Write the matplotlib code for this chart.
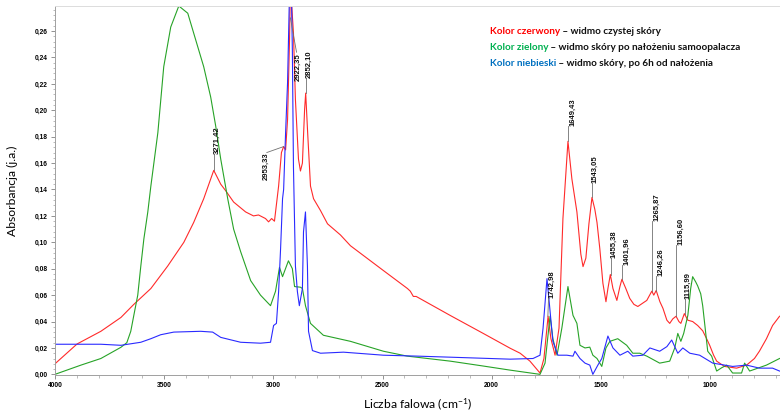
import matplotlib
matplotlib.use('Agg')
import matplotlib.pyplot as plt
from matplotlib.ticker import MultipleLocator, FuncFormatter

plt.rcParams['mathtext.fontset'] = 'custom'
plt.rcParams['mathtext.rm'] = 'Lato'
plt.rcParams['mathtext.it'] = 'Lato:italic'

# --- widmo czystej skory (czerwony) ---
red_wn = [4000, 3899, 3790, 3698, 3639, 3561, 3484, 3410, 3365, 3319, 3273, 3241, 3218, 3182,
          3127, 3091, 3068, 3036, 3022, 3008, 2995, 2976, 2963, 2953, 2944, 2935, 2926, 2922,
          2908, 2899, 2885, 2876, 2867, 2857, 2852, 2843, 2830, 2816, 2784, 2752, 2693, 2647,
          2496, 2386, 2373, 2359, 2346, 2190, 2039, 1916, 1870, 1825, 1779, 1761, 1742, 1729,
          1710, 1692, 1674, 1651, 1633, 1610, 1592, 1582, 1569, 1555, 1541, 1528, 1518, 1505,
          1491, 1477, 1468, 1457, 1445, 1427, 1413, 1404, 1386, 1368, 1349, 1331, 1308, 1290,
          1267, 1258, 1247, 1230, 1216, 1198, 1185, 1171, 1156, 1143, 1134, 1118, 1102, 1080,
          1057, 1034, 1016, 1002, 984, 970, 934, 879, 833, 797, 774, 742, 714, 682]
red_abs = [0.008, 0.023, 0.0326, 0.0431, 0.053, 0.065, 0.082, 0.100, 0.115, 0.133, 0.1545, 0.144,
           0.139, 0.1305, 0.123, 0.120, 0.1207, 0.118, 0.1155, 0.118, 0.116, 0.1426, 0.168, 0.1725,
           0.170, 0.193, 0.253, 0.295, 0.2585, 0.208, 0.163, 0.154, 0.160, 0.2005, 0.213, 0.183,
           0.1426, 0.133, 0.124, 0.114, 0.1056, 0.0974, 0.0786, 0.065, 0.063, 0.059, 0.059, 0.0446,
           0.031, 0.0198, 0.016, 0.010, 0.001, 0.012, 0.044, 0.027, 0.0145, 0.035, 0.118, 0.1765,
           0.148, 0.123, 0.091, 0.0816, 0.088, 0.114, 0.134, 0.125, 0.115, 0.095, 0.069, 0.055,
           0.065, 0.0756, 0.065, 0.056, 0.0665, 0.072, 0.065, 0.0575, 0.053, 0.0514, 0.054, 0.056,
           0.063, 0.060, 0.0635, 0.055, 0.050, 0.041, 0.0386, 0.042, 0.044, 0.040, 0.0386, 0.046,
           0.041, 0.040, 0.037, 0.033, 0.027, 0.022, 0.0145, 0.010, 0.006, 0.0047, 0.007, 0.012,
           0.0176, 0.027, 0.037, 0.044]

# --- po nalozeniu samoopalacza (zielony) ---
green_wn = [4000, 3881, 3790, 3698, 3671, 3653, 3639, 3621, 3607, 3593, 3575, 3561, 3529, 3502,
            3470, 3433, 3392, 3365, 3319, 3287, 3264, 3241, 3209, 3182, 3150, 3104, 3059, 3013,
            2990, 2972, 2958, 2931, 2913, 2903, 2876, 2867, 2853, 2830, 2771, 2647, 2496, 2387,
            2190, 2039, 1916, 1779, 1756, 1733, 1720, 1701, 1679, 1651, 1628, 1610, 1596, 1573,
            1551, 1537, 1518, 1496, 1477, 1459, 1423, 1382, 1354, 1322, 1290, 1231, 1185, 1162,
            1148, 1134, 1121, 1102, 1089, 1080, 1066, 1057, 1043, 1034, 1020, 1011, 993, 970,
            947, 924, 897, 856, 842, 819, 742, 682]
green_abs = [0.0, 0.007, 0.012, 0.0205, 0.024, 0.0326, 0.0447, 0.060, 0.082, 0.1026, 0.123,
             0.1426, 0.183, 0.233, 0.263, 0.279, 0.2735, 0.2585, 0.233, 0.210, 0.188, 0.163,
             0.133, 0.110, 0.093, 0.071, 0.060, 0.052, 0.063, 0.081, 0.074, 0.086, 0.080, 0.0665,
             0.066, 0.065, 0.052, 0.0386, 0.0296, 0.025, 0.0175, 0.0138, 0.010, 0.0063, 0.0032,
             0.0, 0.0085, 0.044, 0.027, 0.0145, 0.035, 0.0665, 0.0447, 0.0386, 0.022, 0.020,
             0.0206, 0.0145, 0.012, 0.006, 0.020, 0.025, 0.027, 0.022, 0.016, 0.016, 0.0138,
             0.0085, 0.010, 0.020, 0.031, 0.025, 0.031, 0.0447, 0.065, 0.074, 0.070, 0.067,
             0.061, 0.052, 0.031, 0.0175, 0.0138, 0.0025, 0.005, 0.007, 0.001, 0.001, 0.0085,
             0.0025, 0.007, 0.012]

# --- po 6h od nalozenia (niebieski) ---
blue_wn = [4000, 3790, 3698, 3607, 3561, 3516, 3456, 3333, 3278, 3241, 3150, 3059, 3013, 2999,
           2986, 2976, 2967, 2958, 2953, 2944, 2935, 2926, 2917, 2913, 2908, 2899, 2890, 2881,
           2867, 2862, 2853, 2844, 2839, 2821, 2784, 2679, 2496, 2341, 2190, 1916, 1811, 1779,
           1765, 1747, 1733, 1720, 1697, 1656, 1628, 1619, 1596, 1573, 1551, 1537, 1514, 1496,
           1468, 1445, 1413, 1377, 1354, 1308, 1276, 1231, 1198, 1176, 1162, 1148, 1125, 1093,
           1048, 988, 897, 833, 774, 714, 682]
blue_abs = [0.0228, 0.0228, 0.022, 0.0243, 0.027, 0.030, 0.032, 0.0326, 0.032, 0.028, 0.0243,
            0.0236, 0.0243, 0.037, 0.0386, 0.0627, 0.095, 0.133, 0.140, 0.183, 0.221, 0.29,
            0.285, 0.245, 0.157, 0.082, 0.0627, 0.052, 0.065, 0.108, 0.123, 0.082, 0.0326,
            0.018, 0.016, 0.0168, 0.0145, 0.0138, 0.013, 0.0115, 0.012, 0.0145, 0.035, 0.0725,
            0.048, 0.025, 0.0145, 0.0145, 0.0138, 0.0175, 0.012, 0.0085, 0.007, 0.0, 0.007,
            0.012, 0.029, 0.020, 0.0145, 0.0175, 0.0138, 0.0145, 0.020, 0.0175, 0.021, 0.026,
            0.021, 0.016, 0.020, 0.016, 0.0145, 0.0085, 0.006, 0.007, 0.0047, 0.0047, 0.0025]

# opisy pikow: tekst, (wn, abs) piku, koniec linii, pozycja tekstu, wyrownanie
peak_text = ['3271,42', '2953,33', '2922,35', '2852,10', '1742,98', '1649,43', '1543,05',
             '1455,38', '1401,96', '1265,87', '1246,26', '1156,60', '1115,99']
peak_xy = [(3271, 0.1545), (2953, 0.1725), (2922, 0.27), (2852, 0.213), (1743, 0.044),
           (1649, 0.1765), (1543, 0.134), (1455, 0.0756), (1402, 0.072), (1266, 0.063),
           (1246, 0.0635), (1157, 0.044), (1116, 0.046)]
leader_end = [(3271, 0.1666), (3030, 0.168), (2894, 0.244), (2852, 0.2246), (1740, 0.0575),
              (1649, 0.1884), (1543, 0.1447), (1455, 0.0883), (1402, 0.0829), (1266, 0.116),
              (1246, 0.0748), (1157, 0.098), (1116, 0.0567)]
text_pos = [(3255, 0.1666), (3033, 0.168), (2885, 0.2434), (2835, 0.2246), (1724, 0.0575),
            (1628, 0.1884), (1527, 0.1447), (1439, 0.0883), (1382, 0.0829), (1244, 0.116),
            (1226, 0.0748), (1134, 0.098), (1100, 0.0567)]
text_va = ['bottom', 'top', 'top', 'bottom', 'bottom', 'bottom', 'bottom', 'bottom', 'bottom',
           'bottom', 'bottom', 'bottom', 'bottom']

legend_color_part = ['Kolor czerwony', 'Kolor zielony', 'Kolor niebieski']
legend_rest = [' \u2013 widmo czystej skóry', ' \u2013 widmo skóry po nałożeniu samoopalacza',
               ' \u2013 widmo skóry, po 6h od nałożenia']
legend_colors = ['#ff0000', '#00b050', '#0070c0']

fig = plt.figure(figsize=(7.8, 4.17), dpi=100)
ax = fig.add_axes([0.0705, 0.1007, 0.9295, 0.885])

ax.plot(red_wn, red_abs, color='#ff2a2a', lw=0.8)
ax.plot(green_wn, green_abs, color='#27a327', lw=0.8)
ax.plot(blue_wn, blue_abs, color='#2a2aff', lw=0.8)

for txt, p, e, t, va in zip(peak_text, peak_xy, leader_end, text_pos, text_va):
    ax.plot([p[0], e[0]], [p[1], e[1]], color='#707070', lw=0.6)
    ax.text(t[0], t[1], txt, rotation=90, ha='center', va=va, fontsize=5.5,
            fontweight='bold', family='Liberation Sans', color='#111111')

ax.set_xlim(4000, 680)
ax.set_ylim(-0.0005, 0.279)
ax.xaxis.set_major_locator(MultipleLocator(500))
ax.xaxis.set_minor_locator(MultipleLocator(100))
ax.yaxis.set_major_locator(MultipleLocator(0.02))
ax.yaxis.set_minor_locator(MultipleLocator(0.004))
ax.xaxis.set_major_formatter(FuncFormatter(lambda v, p: f'{v:.0f}'))
ax.yaxis.set_major_formatter(FuncFormatter(lambda v, p: f'{v:.2f}'.replace('.', ',')))
ax.tick_params(which='major', length=3, width=0.6, color='#808080', labelsize=4.8, pad=2)
ax.tick_params(which='minor', length=1.8, width=0.5, color='#a0a0a0')
for lab in ax.get_xticklabels() + ax.get_yticklabels():
    lab.set_fontweight('bold')
    lab.set_family('Liberation Sans')
ax.get_yticklabels()[0].set_verticalalignment('bottom')

ax.spines['right'].set_visible(False)
ax.spines['top'].set_color('#dcdcdc')
ax.spines['left'].set_color('#a0a0a0')
ax.spines['bottom'].set_color('#a0a0a0')
for s in ax.spines.values():
    s.set_linewidth(0.7)

ax.set_xlabel('Liczba falowa (cm$^{-1}$)', family='Lato', fontsize=8.7, labelpad=5)
ax.set_ylabel('Absorbancja (j.a.)', family='Lato', fontsize=8.7, labelpad=12)

# legenda w dwoch kolorach
r = fig.canvas.get_renderer()
W = fig.get_figwidth() * fig.dpi
H = fig.get_figheight() * fig.dpi
for i, (a, b, c) in enumerate(zip(legend_color_part, legend_rest, legend_colors)):
    y = 1 - (32 + 15.5 * i) / H
    t1 = fig.text(490 / W, y, a, color=c, family='Lato', fontweight='bold', fontsize=7.2,
                  va='center')
    bb = t1.get_window_extent(r)
    fig.text(bb.x1 / W, y, b, color='#111111', family='Lato', fontweight='bold', fontsize=7.2,
             va='center')

fig.savefig('out.png', dpi=100)
